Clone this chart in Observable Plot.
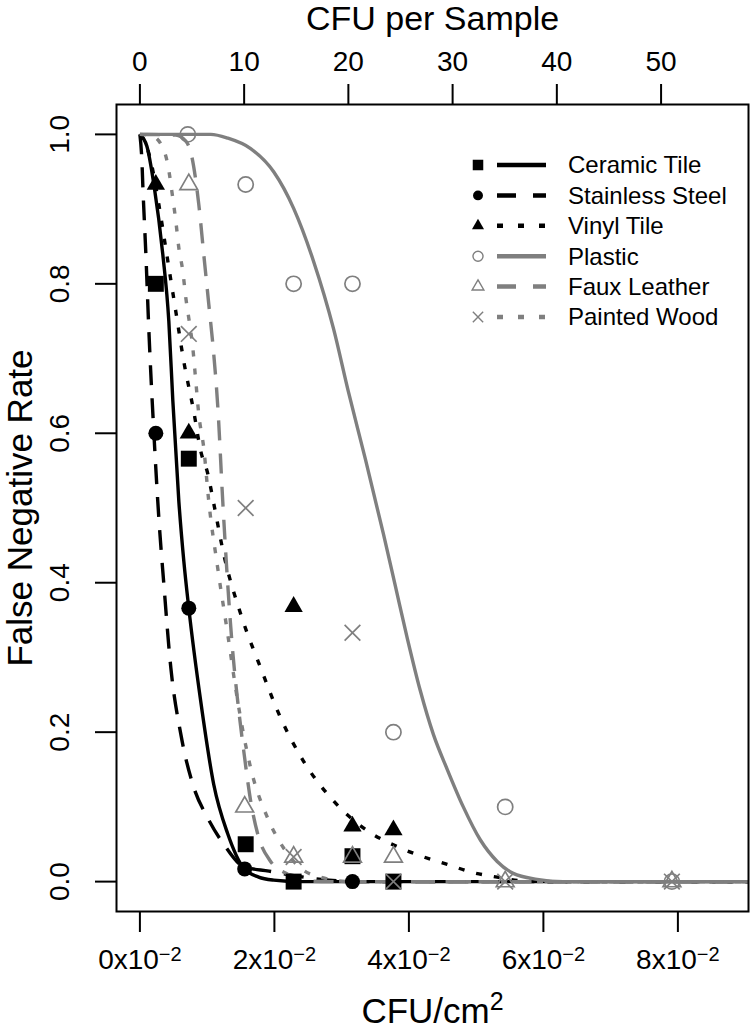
<!DOCTYPE html>
<html>
<head>
<meta charset="utf-8">
<script src="https://cdn.jsdelivr.net/npm/d3@7"></script>
<script src="https://cdn.jsdelivr.net/npm/@observablehq/plot@0.6"></script>
<style>
  html, body { margin: 0; padding: 0; background: #fff; }
  #chart svg { display: block; }
</style>
</head>
<body>
<div id="chart"></div>
<script>
// ---------------- DATA ----------------
const surfaces = ["Ceramic Tile", "Stainless Steel", "Vinyl Tile", "Plastic", "Faux Leather", "Painted Wood"];

// observed false negative rates (x in CFU/cm², y = false negative rate)
const ceramicX = [0.00237, 0.00727, 0.01573, 0.02286, 0.03161, 0.0377];
const ceramicY = [0.800, 0.566, 0.050, 0.000, 0.034, 0.000];
const steelX = [0.00237, 0.00727, 0.01558, 0.03161];
const steelY = [0.600, 0.366, 0.017, 0.000];
const vinylX = [0.00237, 0.00727, 0.02286, 0.03161, 0.0377];
const vinylY = [0.933, 0.600, 0.368, 0.074, 0.069];
const plasticX = [0.00712, 0.01573, 0.02286, 0.03161, 0.0377, 0.05432, 0.07911];
const plasticY = [1.000, 0.933, 0.800, 0.800, 0.200, 0.100, 0.000];
const leatherX = [0.00727, 0.01558, 0.02286, 0.03161, 0.0377, 0.05432, 0.07911];
const leatherY = [0.933, 0.100, 0.033, 0.033, 0.033, 0.000, 0.000];
const woodX = [0.00727, 0.01573, 0.02286, 0.03161, 0.0377, 0.05432, 0.07911];
const woodY = [0.733, 0.500, 0.033, 0.333, 0.000, 0.000, 0.000];

// fitted curves
const ceramicCurveX = [0, 0.00104, 0.00208, 0.00341, 0.0043, 0.0049, 0.00579, 0.00653, 0.00727, 0.00905, 0.01098, 0.01306, 0.01544, 0.01766, 0.01989, 0.0239, 0.0905];
const ceramicCurveY = [1.0, 0.984, 0.933, 0.839, 0.750, 0.643, 0.509, 0.429, 0.366, 0.241, 0.130, 0.064, 0.018, 0.006, 0.002, 0, 0];
const steelCurveX = [0, 0.0003, 0.00045, 0.00089, 0.00134, 0.00208, 0.00282, 0.00356, 0.0046, 0.00609, 0.00787, 0.01009, 0.01247, 0.01544, 0.0192, 0.0229, 0.027, 0.0328, 0.0905];
const steelCurveY = [1.0, 0.964, 0.928, 0.839, 0.736, 0.600, 0.486, 0.398, 0.286, 0.197, 0.130, 0.085, 0.050, 0.020, 0.014, 0.008, 0.003, 0, 0];
const vinylCurveX = [0, 0.00089, 0.00163, 0.00282, 0.00386, 0.00534, 0.00653, 0.00801, 0.00905, 0.01009, 0.01098, 0.01247, 0.01499, 0.01796, 0.02093, 0.02434, 0.02879, 0.03384, 0.03874, 0.04319, 0.04571, 0.04957, 0.05313, 0.057, 0.0625, 0.0905];
const vinylCurveY = [1.0, 0.987, 0.964, 0.906, 0.847, 0.763, 0.696, 0.629, 0.576, 0.546, 0.506, 0.438, 0.358, 0.286, 0.219, 0.161, 0.108, 0.068, 0.045, 0.030, 0.023, 0.012, 0.006, 0.001, 0, 0];
const plasticCurveX = [0, 0.01054, 0.01306, 0.01647, 0.01989, 0.02286, 0.02583, 0.02879, 0.03102, 0.03354, 0.03622, 0.03800, 0.03978, 0.04171, 0.04364, 0.04571, 0.04809, 0.05061, 0.05313, 0.05551, 0.05907, 0.06293, 0.0905];
const plasticCurveY = [1.0, 1.0, 0.995, 0.981, 0.950, 0.901, 0.830, 0.740, 0.655, 0.565, 0.465, 0.395, 0.325, 0.255, 0.197, 0.150, 0.100, 0.056, 0.027, 0.011, 0.003, 0, 0];
const leatherCurveX = [0, 0.00534, 0.00683, 0.00757, 0.00876, 0.0095, 0.01024, 0.01098, 0.01158, 0.01232, 0.01306, 0.0138, 0.01455, 0.01544, 0.01647, 0.01751, 0.01944, 0.02197, 0.02493, 0.02835, 0.0905];
const leatherCurveY = [1.0, 0.999, 0.991, 0.976, 0.906, 0.839, 0.773, 0.706, 0.636, 0.509, 0.398, 0.308, 0.241, 0.175, 0.108, 0.064, 0.027, 0.010, 0.001, 0, 0];
const woodCurveX = [0, 0.00178, 0.00341, 0.00416, 0.0049, 0.00534, 0.00579, 0.00638, 0.00683, 0.00727, 0.00787, 0.00831, 0.00876, 0.0095, 0.01024, 0.01158, 0.01306, 0.01455, 0.01647, 0.019, 0.02137, 0.0239, 0.02731, 0.03132, 0.0905];
const woodCurveY = [1.0, 0.998, 0.982, 0.959, 0.914, 0.884, 0.848, 0.817, 0.781, 0.754, 0.714, 0.670, 0.625, 0.580, 0.509, 0.419, 0.331, 0.241, 0.152, 0.085, 0.045, 0.018, 0.005, 0, 0];

// axes
const xTicks = [0, 0.02, 0.04, 0.06, 0.08];          // CFU/cm²
const sampleTicks = [0, 10, 20, 30, 40, 50];         // CFU per sample
const sampleArea = 645.16;                           // cm² per sample (100 in²)
const yTicks = [0, 0.2, 0.4, 0.6, 0.8, 1.0];

// ---------------- STYLES ----------------
const BLACK = "#000000", GREY = "#7f7f7f";
const FONT = "'Liberation Sans', Arial, Helvetica, sans-serif";
const styles = [
  {color: BLACK, symbol: "square",   filled: true,  r: 9,   dash: null},
  {color: BLACK, symbol: "circle",   filled: true,  r: 7.5, dash: "20,13"},
  {color: BLACK, symbol: "triangle", filled: true,  r: 6.8, dash: "6,12"},
  {color: GREY,  symbol: "circle",   filled: false, r: 7.6, dash: null},
  {color: GREY,  symbol: "triangle", filled: false, r: 6.6, dash: "20,13"},
  {color: GREY,  symbol: "times",    filled: false, r: 7.2, dash: "6,12"}
];

const pointX = [ceramicX, steelX, vinylX, plasticX, leatherX, woodX];
const pointY = [ceramicY, steelY, vinylY, plasticY, leatherY, woodY];
const curveX = [ceramicCurveX, steelCurveX, vinylCurveX, plasticCurveX, leatherCurveX, woodCurveX];
const curveY = [ceramicCurveY, steelCurveY, vinylCurveY, plasticCurveY, leatherCurveY, woodCurveY];

const pointsOf = i => pointX[i].map((x, j) => ({surface: surfaces[i], x, y: pointY[i][j]}));
const curveOf = i => curveX[i].map((x, j) => ({surface: surfaces[i], x, y: curveY[i][j]}));

const lineMarks = surfaces.map((s, i) => Plot.line(curveOf(i), {
  x: "x", y: "y", curve: "monotone-x",
  stroke: styles[i].color, strokeWidth: 3.4,
  strokeDasharray: styles[i].dash, strokeLinecap: "butt", strokeLinejoin: "round"
}));

const dotMarks = surfaces.map((s, i) => {
  const st = styles[i];
  return Plot.dot(pointsOf(i), {
    x: "x", y: "y", symbol: st.symbol, r: st.r,
    fill: st.filled ? st.color : "none",
    stroke: st.filled ? "none" : st.color,
    strokeWidth: st.filled ? 0 : 1.7
  });
});

const chart = Plot.plot({
  width: 750, height: 1035,
  marginLeft: 116, marginRight: 2, marginTop: 104, marginBottom: 124,
  style: {fontFamily: FONT, background: "#fff", color: "#000", overflow: "visible"},
  x: {domain: [-0.00348, 0.0905]},
  y: {domain: [-0.04, 1.04]},
  marks: [
    ...lineMarks,
    ...dotMarks,
    Plot.frame({stroke: BLACK, strokeWidth: 2}),
    Plot.axisX({anchor: "bottom", ticks: xTicks, tickSize: 21, tickFormat: () => "", strokeWidth: 2, label: null}),
    Plot.axisX({anchor: "top", ticks: sampleTicks.map(c => c / sampleArea), tickSize: 21, tickFormat: () => "", strokeWidth: 2, label: null}),
    Plot.axisY({anchor: "left", ticks: yTicks, tickSize: 21, tickFormat: () => "", strokeWidth: 2, label: null}),
    // tick labels
    Plot.text(xTicks, {x: d => d, frameAnchor: "bottom", dy: 49, text: d => `${Math.round(d * 100)}x10`,
      fontSize: 28, textAnchor: "middle", lineAnchor: "middle", ariaDescription: "x-tick-label"}),
    Plot.text(sampleTicks, {x: c => c / sampleArea, frameAnchor: "top", dy: -42, text: c => String(c),
      fontSize: 28, textAnchor: "middle", lineAnchor: "middle"}),
    Plot.text(yTicks, {y: d => d, frameAnchor: "left", dx: -56, rotate: -90, text: d => d3.format(".1f")(d),
      fontSize: 28, textAnchor: "middle", lineAnchor: "middle"}),
    // axis titles
    Plot.text(["False Negative Rate"], {frameAnchor: "left", dx: -96, rotate: -90, text: d => d,
      fontSize: 35, textAnchor: "middle", lineAnchor: "middle"}),
    Plot.text(["CFU per Sample"], {frameAnchor: "top", dy: -85, text: d => d,
      fontSize: 34, textAnchor: "middle", lineAnchor: "middle"}),
    Plot.text(["CFU/cm"], {frameAnchor: "bottom", dy: 100, text: d => d,
      fontSize: 35, textAnchor: "middle", lineAnchor: "middle", ariaDescription: "x-title"})
  ]
});

const svg = d3.select(chart);
// superscripts: find the label texts by their content
svg.selectAll("text").each(function () {
  const t = this.textContent;
  if (/^\dx10$/.test(t)) {
    d3.select(this).append("tspan").attr("dy", "-0.42em").attr("font-size", 20).text("\u22122");
  } else if (t === "CFU/cm") {
    d3.select(this).append("tspan").attr("dy", "-0.5em").attr("font-size", 25).text("2");
  }
});

// legend
const lg = svg.append("g").attr("font-family", FONT).attr("text-anchor", "start");
surfaces.forEach((s, i) => {
  const st = styles[i];
  const cy = 165 + i * 30.4;
  const sym = d3.symbol().type({square: d3.symbolSquare, circle: d3.symbolCircle, triangle: d3.symbolTriangle, times: d3.symbolTimes}[st.symbol])
    .size(Math.PI * Math.pow(st.r * 0.66, 2));
  lg.append("path").attr("d", sym()).attr("transform", `translate(478,${cy})`)
    .attr("fill", st.filled ? st.color : "none")
    .attr("stroke", st.filled ? "none" : st.color)
    .attr("stroke-width", st.filled ? 0 : 1.4);
  lg.append("line").attr("x1", 497).attr("x2", 546).attr("y1", cy).attr("y2", cy)
    .attr("stroke", st.color).attr("stroke-width", 4.5)
    .attr("stroke-dasharray", st.dash ? (st.dash === "6,12" ? "6,15" : "19,17") : null);
  lg.append("text").attr("x", 568).attr("y", cy).attr("dy", "0.35em")
    .attr("text-anchor", "start")
    .attr("font-size", 24).attr("fill", "#000").text(s);
});

document.getElementById("chart").appendChild(chart);
</script>
</body>
</html>
